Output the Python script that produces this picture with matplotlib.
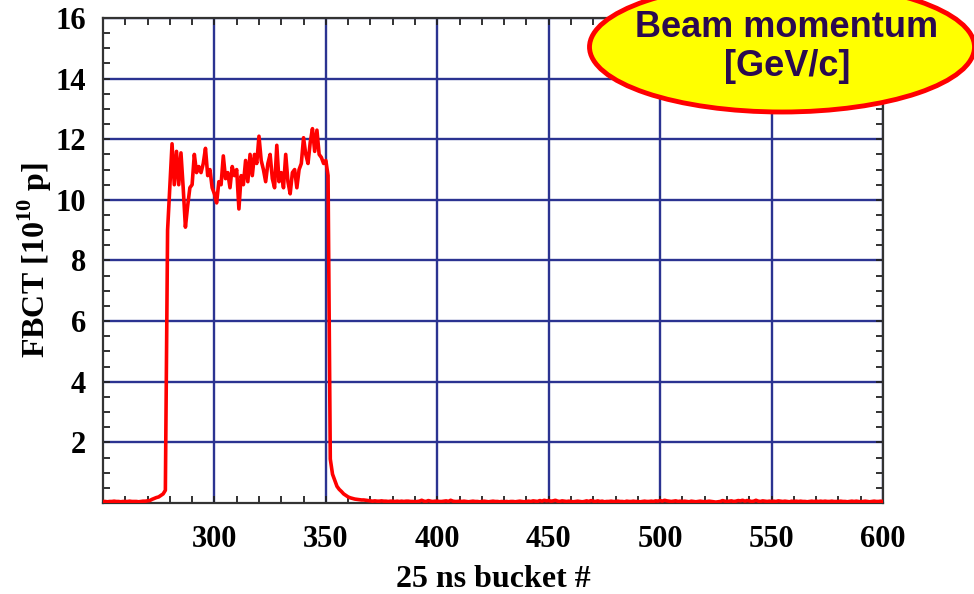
import numpy as np
import matplotlib
matplotlib.use('Agg')
import matplotlib.pyplot as plt
from matplotlib.patches import Ellipse
from matplotlib.ticker import MultipleLocator

plt.rcParams['font.family'] = 'Liberation Serif'
plt.rcParams['font.weight'] = 'bold'
plt.rcParams['mathtext.fontset'] = 'custom'
plt.rcParams['mathtext.rm'] = 'Liberation Serif:bold'
plt.rcParams['mathtext.bf'] = 'Liberation Serif:bold'

# first bucket number of the trace
bucket_start = 250

# FBCT per bucket [1e10 p], buckets 250..278 (before injection)
fbct_before = [0.05, 0.05, 0.04, 0.05, 0.05, 0.06, 0.05, 0.05, 0.04, 0.05,
               0.05, 0.05, 0.06, 0.05, 0.05, 0.05, 0.04, 0.05, 0.06, 0.06,
               0.07, 0.08, 0.12, 0.15, 0.18, 0.20, 0.25, 0.30, 0.42]

# buckets 279..351 (the batch)
fbct_batch = [9.0, 10.4, 11.85, 10.5, 11.6, 10.5, 11.55, 10.4, 9.1, 9.8,
              10.4, 10.5, 11.5, 10.9, 11.1, 10.9, 11.2, 11.7, 10.8, 11.0,
              10.4, 10.2, 9.9, 10.6, 10.5, 11.45, 10.7, 10.9, 10.4, 11.1,
              10.8, 11.0, 9.7, 10.8, 10.5, 11.3, 10.6, 11.5, 10.8, 11.5,
              11.2, 12.1, 11.3, 11.0, 10.6, 11.2, 11.5, 10.7, 10.4, 11.8,
              10.6, 10.9, 10.4, 11.5, 10.6, 10.2, 10.9, 11.0, 10.4, 11.0,
              11.2, 12.05, 11.5, 11.2, 11.9, 12.35, 11.6, 12.3, 11.5, 11.4,
              11.2, 11.3, 10.8]

# buckets 352..369 (tail after the batch)
fbct_tail = [1.45, 0.95, 0.75, 0.55, 0.45, 0.38, 0.30, 0.25, 0.20, 0.17,
             0.15, 0.13, 0.12, 0.11, 0.10, 0.10, 0.09, 0.08]

# buckets 370..600 (empty buckets)
fbct_empty = [0.07, 0.06, 0.07, 0.06, 0.06, 0.07, 0.06, 0.06, 0.05, 0.06,
              0.06, 0.05, 0.06, 0.05, 0.06, 0.05, 0.06, 0.06, 0.05, 0.05,
              0.04, 0.05, 0.06, 0.09, 0.06, 0.05, 0.08, 0.06, 0.05, 0.06,
              0.06, 0.05, 0.05, 0.06, 0.07, 0.05, 0.09, 0.06, 0.05, 0.05,
              0.06, 0.05, 0.06, 0.05, 0.04, 0.05, 0.06, 0.05, 0.05, 0.04,
              0.05, 0.06, 0.05, 0.04, 0.05, 0.06, 0.05, 0.05, 0.04, 0.05,
              0.04, 0.05, 0.04, 0.05, 0.05, 0.04, 0.05, 0.06, 0.05, 0.04,
              0.05, 0.06, 0.05, 0.07, 0.06, 0.05, 0.08, 0.06, 0.09, 0.07,
              0.08, 0.06, 0.07, 0.09, 0.06, 0.05, 0.07, 0.06, 0.05, 0.06,
              0.05, 0.04, 0.05, 0.06, 0.05, 0.04, 0.05, 0.07, 0.05, 0.08,
              0.06, 0.05, 0.07, 0.05, 0.06, 0.04, 0.05, 0.05, 0.06, 0.05,
              0.05, 0.06, 0.05, 0.05, 0.04, 0.06, 0.05, 0.05, 0.06, 0.05,
              0.05, 0.04, 0.05, 0.06, 0.05, 0.05, 0.06, 0.05, 0.07, 0.06,
              0.08, 0.06, 0.09, 0.07, 0.06, 0.05, 0.06, 0.07, 0.05, 0.06,
              0.05, 0.06, 0.05, 0.04, 0.06, 0.05, 0.04, 0.05, 0.06, 0.05,
              0.04, 0.05, 0.06, 0.05, 0.04, 0.03, 0.04, 0.05, 0.08, 0.06,
              0.05, 0.06, 0.07, 0.05, 0.06, 0.08, 0.07, 0.09, 0.06, 0.08,
              0.07, 0.05, 0.06, 0.09, 0.06, 0.05, 0.07, 0.06, 0.05, 0.06,
              0.05, 0.06, 0.05, 0.07, 0.06, 0.05, 0.06, 0.05, 0.04, 0.06,
              0.05, 0.06, 0.05, 0.06, 0.05, 0.05, 0.04, 0.05, 0.06, 0.05,
              0.06, 0.05, 0.06, 0.05, 0.06, 0.05, 0.05, 0.06, 0.05, 0.05,
              0.05, 0.06, 0.05, 0.05, 0.04, 0.05, 0.06, 0.05, 0.06, 0.05,
              0.04, 0.05, 0.06, 0.05, 0.04, 0.05, 0.06, 0.05, 0.05, 0.06,
              0.05]

x_ticks = [300, 350, 400, 450, 500, 550, 600]
y_ticks = [2, 4, 6, 8, 10, 12, 14, 16]

fbct = np.array(fbct_before + fbct_batch + fbct_tail + fbct_empty)
buckets = np.arange(bucket_start, bucket_start + len(fbct))

fig = plt.figure(figsize=(9.74, 5.94), dpi=100)
ax = fig.add_axes([0.1057, 0.1532, 0.8009, 0.8165])

ax.plot(buckets, fbct, color='#ff0000', lw=2.6, zorder=3)

ax.set_xlim(250, 600)
ax.set_ylim(0, 16)
ax.set_xticks(x_ticks)
ax.set_yticks(y_ticks)
ax.xaxis.set_minor_locator(MultipleLocator(10))
ax.yaxis.set_minor_locator(MultipleLocator(0.5))
ax.tick_params(which='both', direction='in', top=True, right=True,
               length=5, width=1.3, color='#222222', labelsize=22)
ax.tick_params(axis='x', pad=16)
ax.tick_params(axis='y', pad=12)
ax.grid(True, which='major', color='#2b3391', lw=1.7, zorder=1)
ax.set_axisbelow(True)
for s in ax.spines.values():
    s.set_color('#333333')
    s.set_linewidth(1.6)

ax.set_xlabel('25 ns bucket #', fontsize=23, fontweight='bold', labelpad=8)
ax.set_ylabel(r'FBCT [10$^{10}$ p]', fontsize=23, fontweight='bold', labelpad=1)

# yellow bubble with the quantity name, top right
bubble = Ellipse((782 / 974, 1 - 47 / 594), 385 / 974, 130 / 594,
                 transform=fig.transFigure, facecolor='#ffff00',
                 edgecolor='#ff0000', lw=3.5, zorder=10, clip_on=False)
fig.add_artist(bubble)
fig.text(787 / 974, 1 - 47 / 594, 'Beam momentum\n[GeV/c]',
         ha='center', va='center', fontsize=26, fontweight='bold',
         family='Liberation Sans', color='#2a0a50', linespacing=1.12,
         zorder=11)

fig.savefig('out.png', dpi=100)
